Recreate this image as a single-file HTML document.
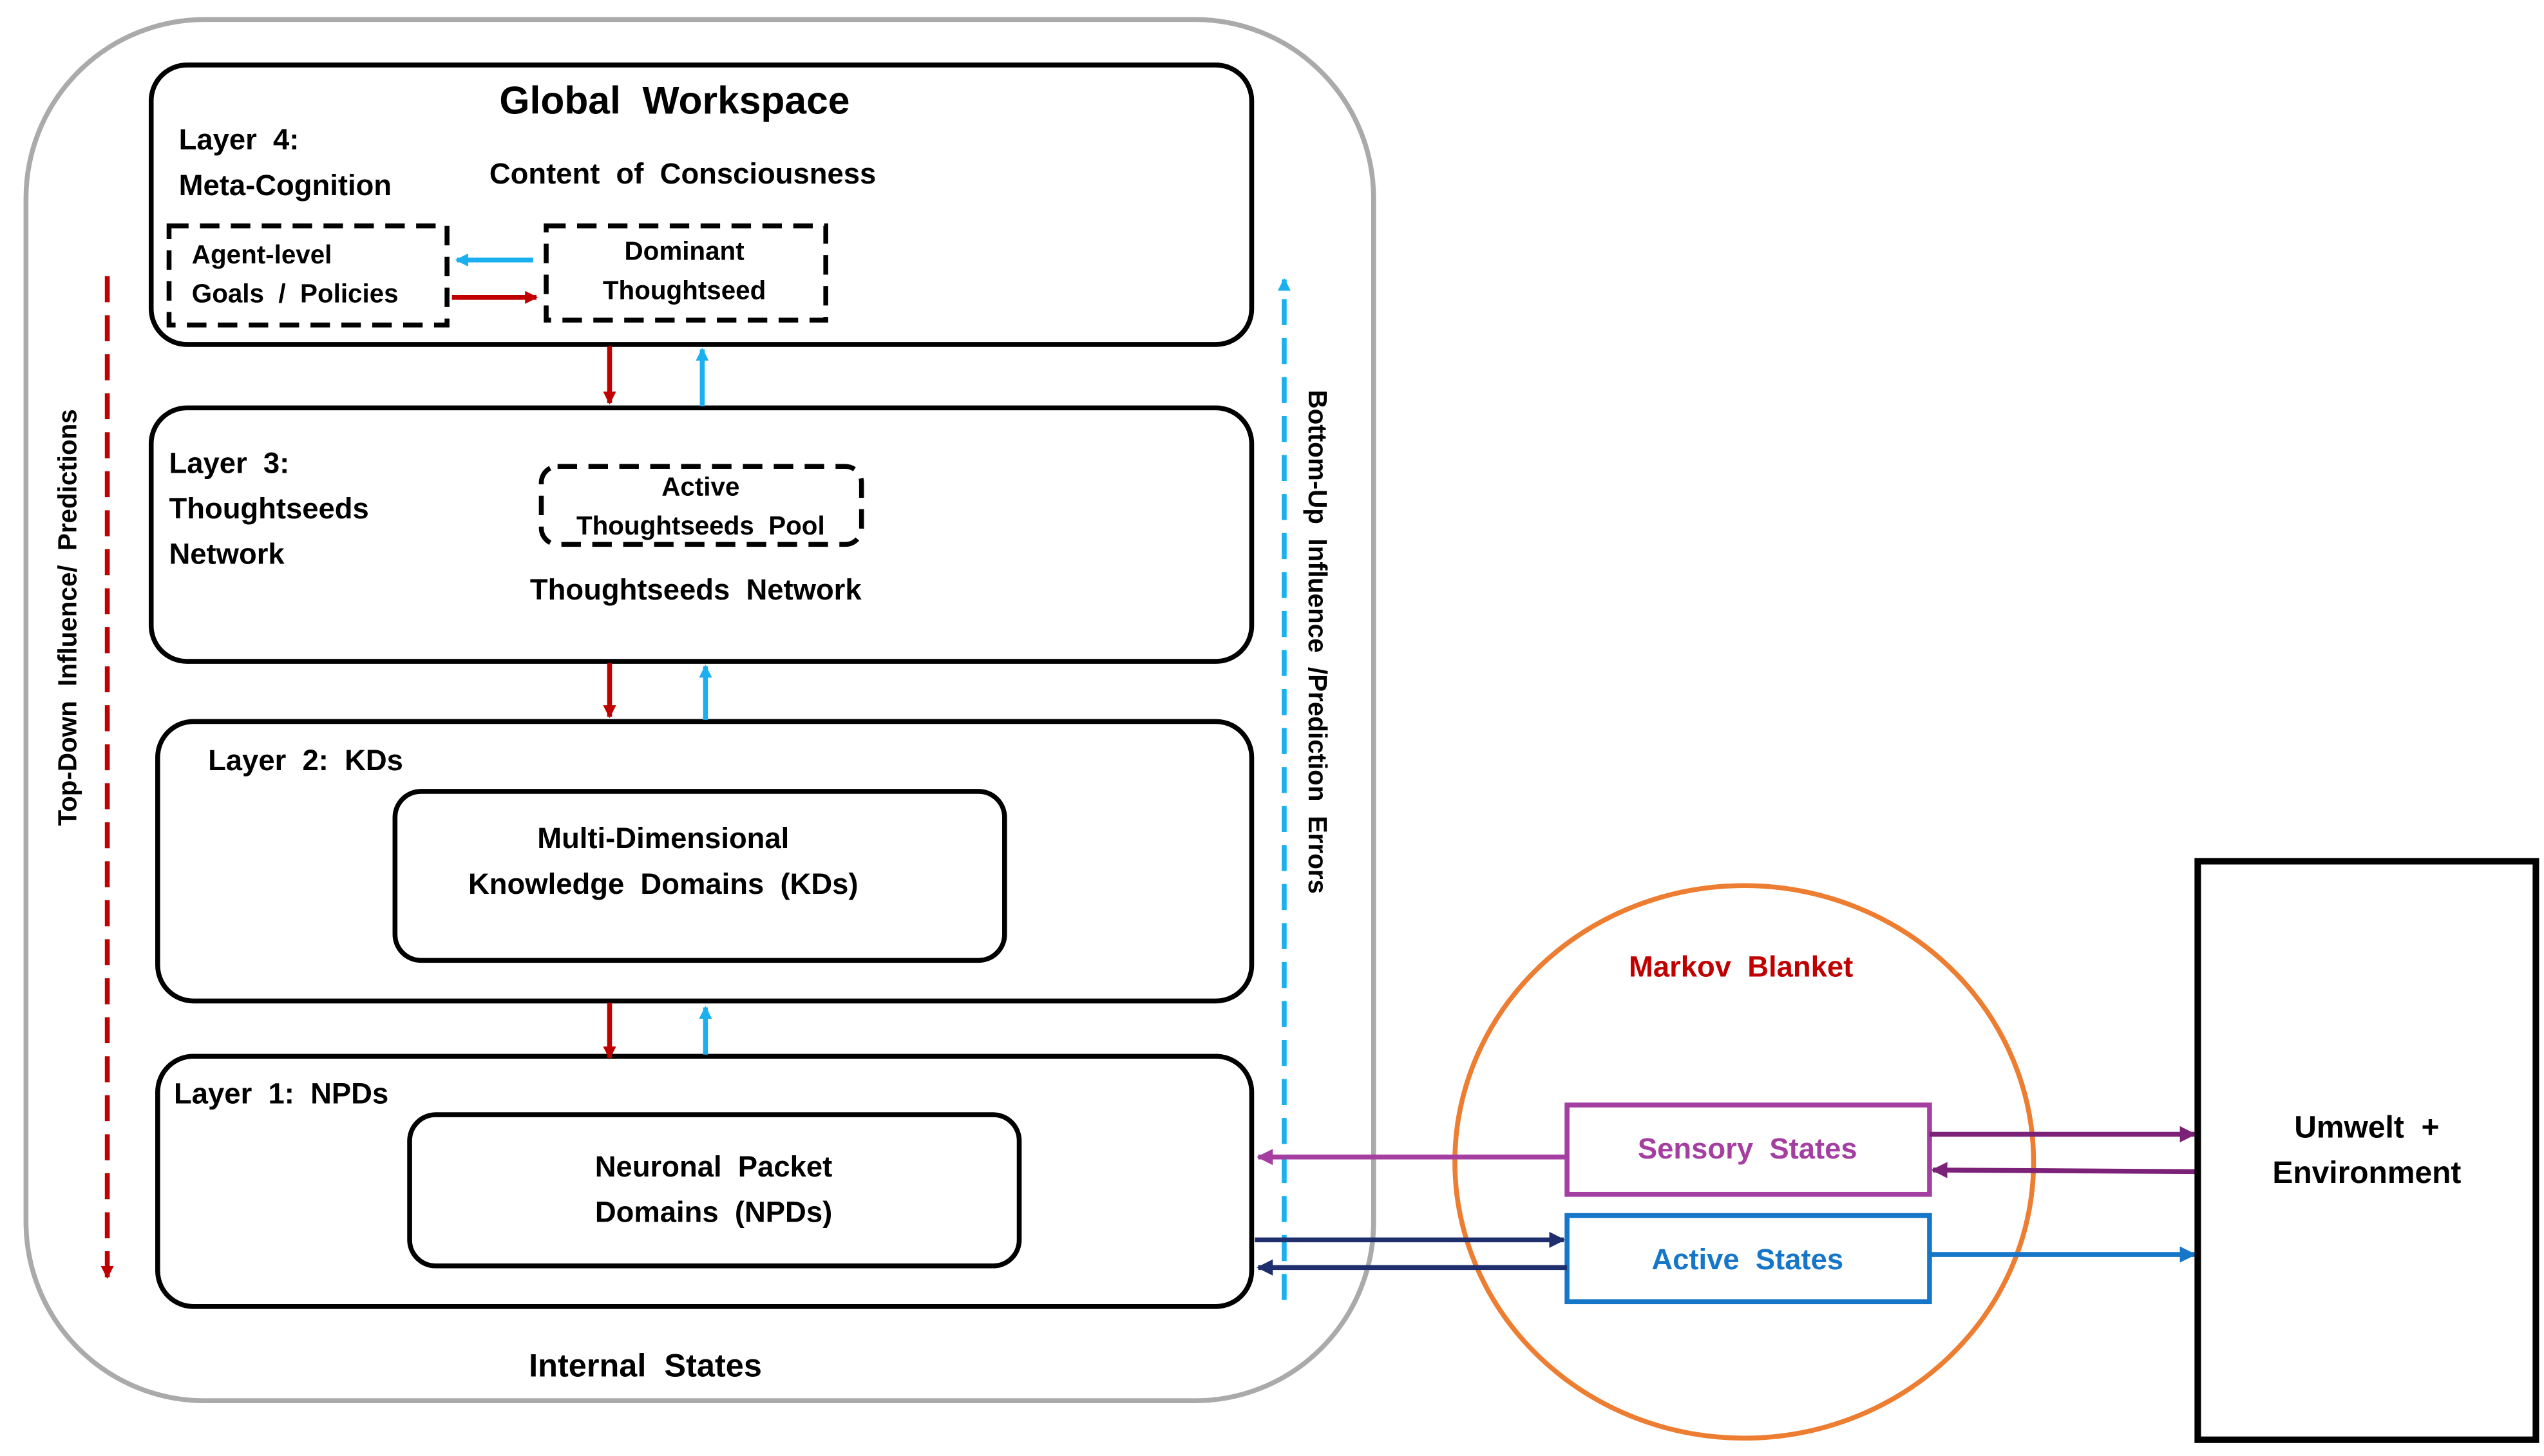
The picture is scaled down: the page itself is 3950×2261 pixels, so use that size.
<!DOCTYPE html>
<html><head><meta charset="utf-8"><style>
html,body{margin:0;padding:0;background:#fff;}
svg{display:block;}
text{font-family:"Liberation Sans",Arial,sans-serif;font-weight:bold;white-space:pre;}
</style></head><body>
<svg width="3950" height="2261" viewBox="0 0 1565 896" preserveAspectRatio="none" xmlns="http://www.w3.org/2000/svg" xml:space="preserve">
<defs>
<marker id="mr" markerWidth="8" markerHeight="8" refX="7" refY="4" orient="auto" markerUnits="userSpaceOnUse"><path d="M0,0 L8,4 L0,8z" fill="#c00000"/></marker>
<marker id="mc" markerWidth="8" markerHeight="8" refX="7" refY="4" orient="auto" markerUnits="userSpaceOnUse"><path d="M0,0 L8,4 L0,8z" fill="#1ab0ef"/></marker>
<marker id="mp" markerWidth="10" markerHeight="10" refX="9" refY="5" orient="auto" markerUnits="userSpaceOnUse"><path d="M0,0 L10,5 L0,10z" fill="#7b2278"/></marker>
<marker id="mm" markerWidth="10" markerHeight="10" refX="9" refY="5" orient="auto" markerUnits="userSpaceOnUse"><path d="M0,0 L10,5 L0,10z" fill="#a43ea0"/></marker>
<marker id="mn" markerWidth="10" markerHeight="10" refX="9" refY="5" orient="auto" markerUnits="userSpaceOnUse"><path d="M0,0 L10,5 L0,10z" fill="#1f2f6e"/></marker>
<marker id="mb" markerWidth="10" markerHeight="10" refX="9" refY="5" orient="auto" markerUnits="userSpaceOnUse"><path d="M0,0 L10,5 L0,10z" fill="#1676c8"/></marker>
</defs>
<rect x="16" y="12" width="829" height="850" rx="110" fill="none" stroke="#aaa" stroke-width="3"/>
<rect x="93" y="40" width="677" height="172" rx="22" fill="none" stroke="#000" stroke-width="3"/>
<text x="415" y="70" font-size="24" text-anchor="middle">Global  Workspace</text>
<text x="110" y="92" font-size="18">Layer  4:</text>
<text x="110" y="120" font-size="18">Meta-Cognition</text>
<text x="420" y="113" font-size="18" text-anchor="middle">Content  of  Consciousness</text>
<rect x="104" y="139" width="171" height="61" fill="none" stroke="#000" stroke-width="3" stroke-dasharray="12,7"/>
<text x="118" y="162" font-size="16">Agent-level</text>
<text x="118" y="186" font-size="16">Goals  /  Policies</text>
<rect x="336" y="139" width="172" height="58" fill="none" stroke="#000" stroke-width="3" stroke-dasharray="12,7"/>
<text x="421" y="160" font-size="16" text-anchor="middle">Dominant</text>
<text x="421" y="184" font-size="16" text-anchor="middle">Thoughtseed</text>
<line x1="328" y1="160" x2="281" y2="160" stroke="#1ab0ef" stroke-width="3" marker-end="url(#mc)"/>
<line x1="278" y1="183" x2="330" y2="183" stroke="#c00000" stroke-width="3" marker-end="url(#mr)"/>
<rect x="93" y="251" width="677" height="156" rx="22" fill="none" stroke="#000" stroke-width="3"/>
<text x="104" y="291" font-size="18">Layer  3:</text>
<text x="104" y="319" font-size="18">Thoughtseeds</text>
<text x="104" y="347" font-size="18">Network</text>
<rect x="333" y="287" width="197" height="48" rx="10" fill="none" stroke="#000" stroke-width="3" stroke-dasharray="12,7"/>
<text x="431" y="305" font-size="16" text-anchor="middle">Active</text>
<text x="431" y="329" font-size="16" text-anchor="middle">Thoughtseeds  Pool</text>
<text x="428" y="369" font-size="18" text-anchor="middle">Thoughtseeds  Network</text>
<rect x="97" y="444" width="673" height="172" rx="22" fill="none" stroke="#000" stroke-width="3"/>
<text x="128" y="474" font-size="18">Layer  2:  KDs</text>
<rect x="243" y="487" width="375" height="104" rx="16" fill="none" stroke="#000" stroke-width="3"/>
<text x="408" y="522" font-size="18" text-anchor="middle">Multi-Dimensional</text>
<text x="408" y="550" font-size="18" text-anchor="middle">Knowledge  Domains  (KDs)</text>
<rect x="97" y="650" width="673" height="154" rx="22" fill="none" stroke="#000" stroke-width="3"/>
<text x="107" y="679" font-size="18">Layer  1:  NPDs</text>
<rect x="252" y="686" width="375" height="93" rx="16" fill="none" stroke="#000" stroke-width="3"/>
<text x="439" y="724" font-size="18" text-anchor="middle">Neuronal  Packet</text>
<text x="439" y="752" font-size="18" text-anchor="middle">Domains  (NPDs)</text>
<text x="397" y="847" font-size="20" text-anchor="middle">Internal  States</text>
<line x1="375" y1="213" x2="375" y2="248" stroke="#c00000" stroke-width="3" marker-end="url(#mr)"/>
<line x1="432" y1="250" x2="432" y2="215" stroke="#1ab0ef" stroke-width="3" marker-end="url(#mc)"/>
<line x1="375" y1="408" x2="375" y2="441" stroke="#c00000" stroke-width="3" marker-end="url(#mr)"/>
<line x1="434" y1="443" x2="434" y2="410" stroke="#1ab0ef" stroke-width="3" marker-end="url(#mc)"/>
<line x1="375" y1="617" x2="375" y2="651" stroke="#c00000" stroke-width="3" marker-end="url(#mr)"/>
<line x1="434" y1="649" x2="434" y2="620" stroke="#1ab0ef" stroke-width="3" marker-end="url(#mc)"/>
<line x1="66" y1="170" x2="66" y2="786" stroke="#c00000" stroke-width="3" stroke-dasharray="16,8" marker-end="url(#mr)"/>
<text transform="translate(47,380) rotate(-90)" font-size="16" text-anchor="middle">Top-Down  Influence/  Predictions</text>
<line x1="790" y1="800" x2="790" y2="172" stroke="#1ab0ef" stroke-width="3" stroke-dasharray="16,8" marker-end="url(#mc)"/>
<text transform="translate(805,395) rotate(90)" font-size="16" text-anchor="middle">Bottom-Up  Influence  /Prediction  Errors</text>
<ellipse cx="1073" cy="715" rx="178" ry="170" fill="none" stroke="#ed7d31" stroke-width="3"/>
<text x="1071" y="601" font-size="18" text-anchor="middle" fill="#c00000">Markov  Blanket</text>
<rect x="964" y="680" width="223" height="55" fill="#fff" stroke="#a43ea0" stroke-width="3"/>
<text x="1075" y="713" font-size="18" text-anchor="middle" fill="#a43ea0">Sensory  States</text>
<rect x="964" y="748" width="223" height="53" fill="#fff" stroke="#1676c8" stroke-width="3"/>
<text x="1075" y="781" font-size="18" text-anchor="middle" fill="#1676c8">Active  States</text>
<line x1="964" y1="712" x2="774" y2="712" stroke="#a43ea0" stroke-width="3" marker-end="url(#mm)"/>
<line x1="772" y1="763" x2="962" y2="763" stroke="#1f2f6e" stroke-width="3" marker-end="url(#mn)"/>
<line x1="964" y1="780" x2="774" y2="780" stroke="#1f2f6e" stroke-width="3" marker-end="url(#mn)"/>
<line x1="1187" y1="698" x2="1350" y2="698" stroke="#7b2278" stroke-width="3" marker-end="url(#mp)"/>
<line x1="1351" y1="721" x2="1189" y2="720" stroke="#7b2278" stroke-width="3" marker-end="url(#mp)"/>
<line x1="1187" y1="772" x2="1350" y2="772" stroke="#1676c8" stroke-width="3" marker-end="url(#mb)"/>
<rect x="1352" y="530" width="208" height="356" fill="none" stroke="#000" stroke-width="4"/>
<text x="1456" y="700" font-size="19" text-anchor="middle">Umwelt  +</text>
<text x="1456" y="728" font-size="19" text-anchor="middle">Environment</text>
</svg>
</body></html>
